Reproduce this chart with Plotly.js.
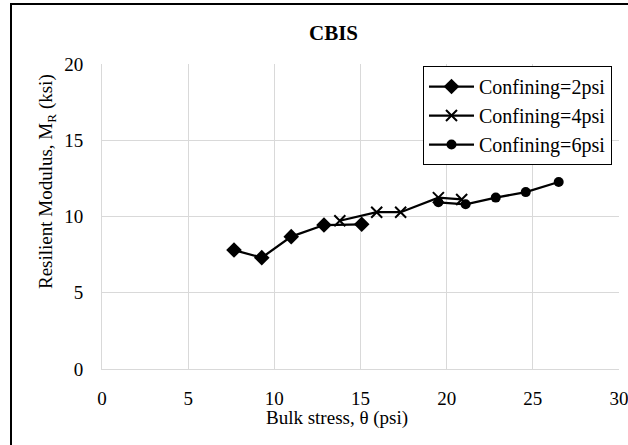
<!DOCTYPE html>
<html>
<head>
<meta charset="utf-8">
<script src="https://cdn.plot.ly/plotly-3.0.1.min.js"></script>
<style>
html,body{margin:0;padding:0;background:#fff;}
#chart{width:628px;height:445px;}
</style>
</head>
<body>
<div id="chart"></div>
<script>
// Data
var seriesNames = ["Confining=2psi", "Confining=4psi", "Confining=6psi"];
var bulk2 = [7.66, 9.27, 10.98, 12.88, 15.07];
var mr2   = [7.80, 7.30, 8.68, 9.44, 9.49];
var bulk4 = [13.8, 15.94, 17.33, 19.52, 20.87];
var mr4   = [9.72, 10.28, 10.28, 11.24, 11.12];
var bulk6 = [19.52, 21.1, 22.85, 24.59, 26.5];
var mr6   = [10.93, 10.8, 11.24, 11.6, 12.26];
var xTicks = [0, 5, 10, 15, 20, 25, 30];
var yTicks = [0, 5, 10, 15, 20];

var FONT = "Liberation Serif";
var L = 102, R = 9, T = 64, B = 76;
var W = 628 - L - R, H = 445 - T - B;
function px(x){ return (x - L) / W; }
function py(y){ return (445 - B - y) / H; }

var lineStyle = {color: "#000", width: 2.25};
var traces = [
  {x: bulk2, y: mr2, name: seriesNames[0], type: "scatter", mode: "lines+markers",
   line: lineStyle, marker: {symbol: "diamond", size: 12, color: "#000"}},
  {x: bulk4, y: mr4, name: seriesNames[1], type: "scatter", mode: "lines+markers",
   line: lineStyle, marker: {symbol: "x-thin-open", size: 11, color: "#000", line: {color: "#000", width: 2}}},
  {x: bulk6, y: mr6, name: seriesNames[2], type: "scatter", mode: "lines+markers",
   line: lineStyle, marker: {symbol: "circle", size: 10, color: "#000"}}
];

var layout = {
  width: 628, height: 445,
  margin: {l: L, r: R, t: T, b: B, pad: 0},
  paper_bgcolor: "#fff", plot_bgcolor: "#fff",
  font: {family: FONT, size: 19, color: "#000"},
  showlegend: true,
  legend: {
    x: px(612), xanchor: "right", y: py(66), yanchor: "top",
    bgcolor: "#fff", bordercolor: "#000", borderwidth: 1,
    font: {family: FONT, size: 20, color: "#000"},
    itemwidth: 45, tracegroupgap: 0
  },
  xaxis: {
    range: [-0.0001, 30.0001], tickvals: xTicks, ticktext: xTicks.map(String),
    showgrid: true, gridcolor: "#d9d9d9", gridwidth: 1,
    showline: true, linecolor: "#d9d9d9", linewidth: 1,
    zeroline: false, ticks: "", ticklabelstandoff: 12, ticklabeloverflow: "allow",
    automargin: false,
    tickfont: {family: FONT, size: 19, color: "#000"}, fixedrange: true
  },
  yaxis: {
    range: [-0.0001, 20.0001], tickvals: yTicks, ticktext: yTicks.map(String),
    showgrid: true, gridcolor: "#d9d9d9", gridwidth: 1,
    showline: true, linecolor: "#d9d9d9", linewidth: 1,
    zeroline: false, ticks: "", ticklabelstandoff: 14, automargin: false,
    tickfont: {family: FONT, size: 19, color: "#000"}, fixedrange: true
  },
  annotations: [
    {text: "<b>CBIS</b>", xref: "paper", yref: "paper", x: px(333), y: py(33),
     xanchor: "center", yanchor: "middle", showarrow: false,
     font: {family: FONT, size: 21, color: "#000"}},
    {text: "Bulk stress, θ (psi)", xref: "paper", yref: "paper", x: px(337), y: py(418),
     xanchor: "center", yanchor: "middle", showarrow: false,
     font: {family: FONT, size: 19, color: "#000"}},
    {text: "Resilient Modulus, M<sub>R</sub> (ksi)", xref: "paper", yref: "paper", x: px(47), y: py(182),
     xanchor: "center", yanchor: "middle", showarrow: false, textangle: -90,
     font: {family: FONT, size: 19, color: "#000"}}
  ],
  shapes: [
    {type: "rect", xref: "paper", yref: "paper",
     x0: px(11), x1: px(660), y0: py(447), y1: py(4),
     line: {color: "#000", width: 2}, fillcolor: "rgba(0,0,0,0)", layer: "above"}
  ]
};

Plotly.newPlot("chart", traces, layout, {displayModeBar: false, staticPlot: true});
</script>
</body>
</html>
